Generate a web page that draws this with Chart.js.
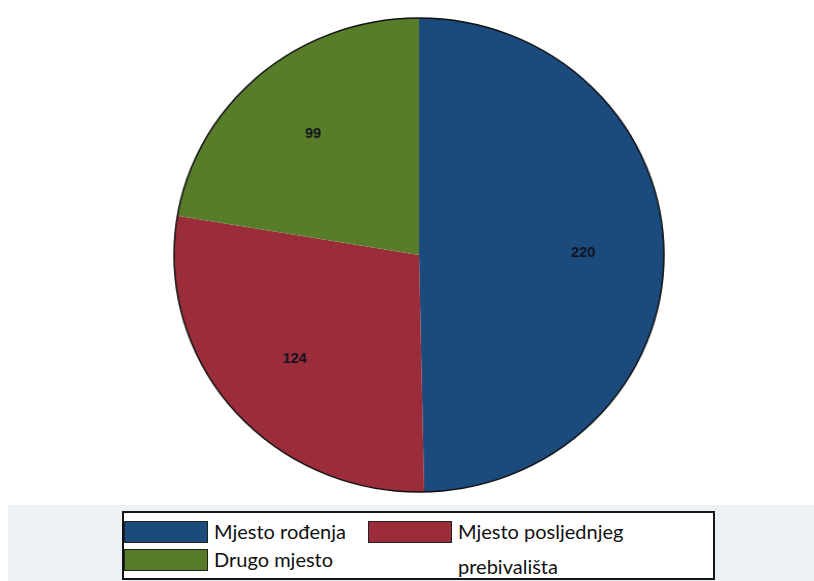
<!DOCTYPE html>
<html>
<head>
<meta charset="utf-8">
<script src="https://cdn.jsdelivr.net/npm/chart.js@4"></script>
<style>
  html, body { margin: 0; padding: 0; background: #fff; }
  #page { position: relative; width: 814px; height: 581px; overflow: hidden; background: #fff; }
  #band { position: absolute; left: 8px; top: 505px; width: 806px; height: 76px; background: #ebf1f5; }
  #pie { position: absolute; left: 172px; top: 16px; }
  #legend {
    position: absolute; left: 122px; top: 511px; width: 589px; height: 65px;
    border: 2px solid #151515; background: #fff;
    font-family: Lato, "Open Sans", sans-serif; font-size: 20px; color: #111;
  }
  .item { position: absolute; display: flex; align-items: flex-start; }
  .swatch { width: 82px; height: 20px; border: 1px solid #222; flex: none; }
  .text { margin-left: 6px; line-height: 35px; margin-top: -7px; width: 200px; }
</style>
</head>
<body>
<div id="page">
  <div id="band"></div>
  <canvas id="pie" width="478" height="478" style="width:494px;height:478px"></canvas>
  <div id="legend"></div>
</div>
<script>
// data
const labels = ["Mjesto rođenja", "Mjesto posljednjeg prebivališta", "Drugo mjesto"];
const values = [220, 124, 99];
const colors = ["#1b4a7c", "#9b2d3b", "#587d2a"];

// legend slots (order as in picture)
const legendPos = [
  { left: 0, top: 8 },
  { left: 244, top: 8 },
  { left: 0, top: 36 },
];

/* outline around the whole pie */
const outline = {
  id: "outline",
  afterDatasetsDraw(chart) {
    const arc = chart.getDatasetMeta(0).data[0];
    if (!arc) return;
    const { x, y, outerRadius } = arc.getProps(["x", "y", "outerRadius"], true);
    const ctx = chart.ctx;
    ctx.save();
    ctx.beginPath();
    ctx.arc(x, y, outerRadius, 0, Math.PI * 2);
    ctx.lineWidth = 1.5;
    ctx.strokeStyle = "#101010";
    ctx.stroke();
    ctx.restore();
  },
};

/* value labels inside slices */
const sliceLabels = {
  id: "sliceLabels",
  afterDatasetsDraw(chart) {
    const ctx = chart.ctx;
    const meta = chart.getDatasetMeta(0);
    ctx.save();
    ctx.font = "bold 14px 'Liberation Sans', Arial, sans-serif";
    ctx.fillStyle = "#12121e";
    ctx.textAlign = "center";
    ctx.textBaseline = "middle";
    meta.data.forEach((arc, i) => {
      const p = arc.getProps(["x", "y", "startAngle", "endAngle", "outerRadius"], true);
      const mid = (p.startAngle + p.endAngle) / 2;
      const r = p.outerRadius * 0.67;
      ctx.fillText(String(values[i]), p.x + Math.cos(mid) * r, p.y + Math.sin(mid) * r);
    });
    ctx.restore();
  },
};

const chart = new Chart(document.getElementById("pie"), {
  type: "pie",
  data: {
    labels,
    datasets: [
      {
        data: values,
        backgroundColor: colors,
        borderWidth: 0,
      },
    ],
  },
  options: {
    responsive: false,
    animation: false,
    layout: { padding: 2 },
    plugins: {
      legend: { display: false },
      tooltip: { enabled: false },
    },
  },
  plugins: [outline, sliceLabels],
});

// build legend from the chart data
const legendEl = document.getElementById("legend");
labels.forEach((label, i) => {
  const item = document.createElement("div");
  item.className = "item";
  item.style.left = legendPos[i].left + "px";
  item.style.top = legendPos[i].top + "px";
  const sw = document.createElement("div");
  sw.className = "swatch";
  sw.style.background = chart.data.datasets[0].backgroundColor[i];
  const tx = document.createElement("div");
  tx.className = "text";
  tx.textContent = label;
  item.appendChild(sw);
  item.appendChild(tx);
  legendEl.appendChild(item);
});
</script>
</body>
</html>
